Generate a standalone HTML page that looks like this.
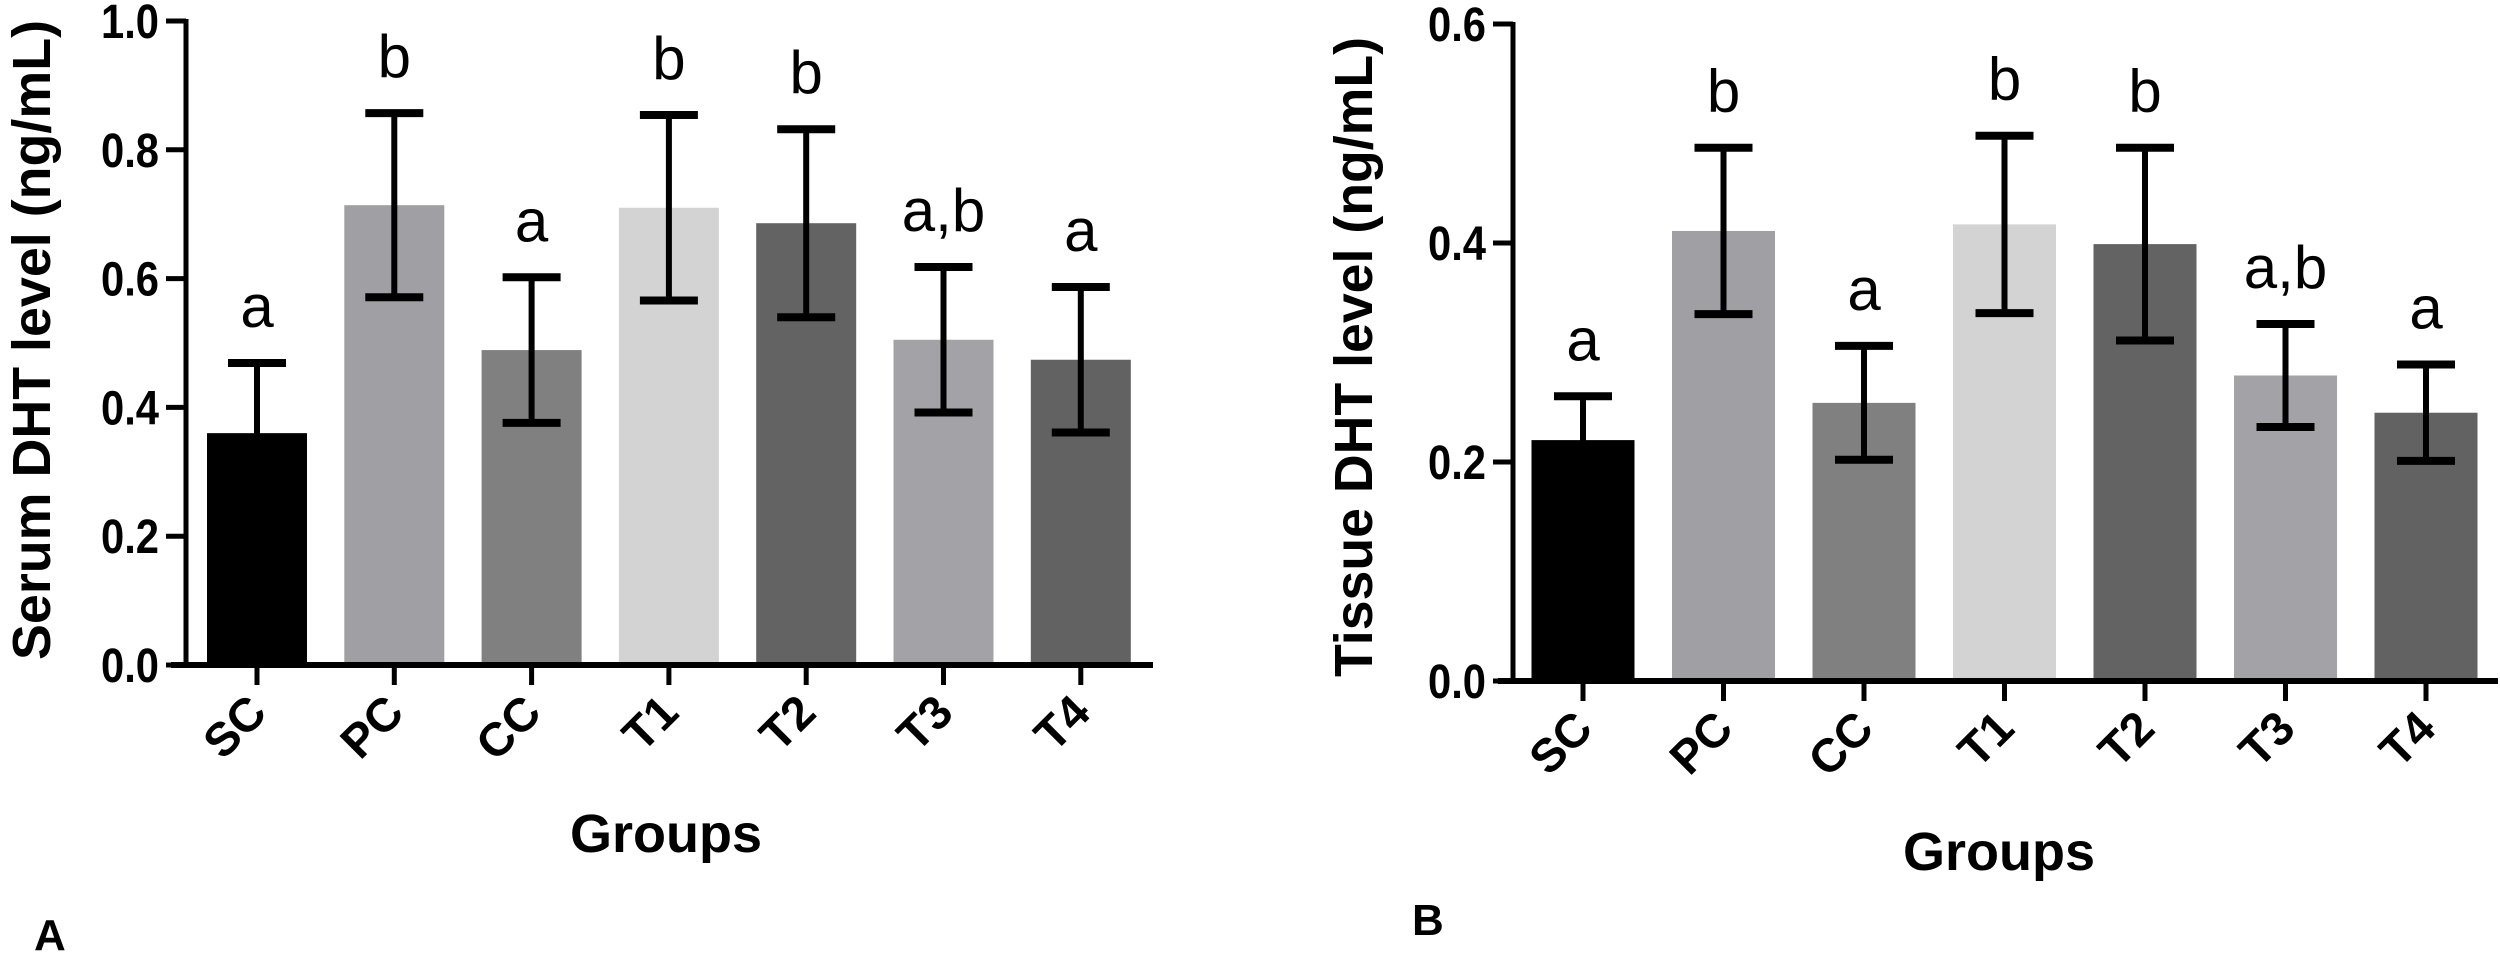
<!DOCTYPE html>
<html><head><meta charset="utf-8"><style>
html,body{margin:0;padding:0;background:#fff;}
svg{display:block;font-family:"Liberation Sans",Arial,sans-serif;}
</style></head><body>
<svg id="fig" width="2500" height="954" viewBox="0 0 2500 954" xmlns="http://www.w3.org/2000/svg"></svg>
<script>
const categories = ["SC","PC","CC","T1","T2","T3","T4"];
const colors = ["#000000","#a0a0a4","#808080","#d3d3d3","#636363","#a3a3a7","#626262"];
const serumMean = [0.36,0.714,0.489,0.71,0.686,0.505,0.474];
const serumErr = [0.109,0.143,0.113,0.144,0.146,0.113,0.113];
const serumLetters = ["a","b","a","b","b","a,b","a"];
const serumTicks = [0,0.2,0.4,0.6,0.8,1.0];
const serumTickLabels = ["0.0","0.2","0.4","0.6","0.8","1.0"];
const tissueMean = [0.22,0.411,0.254,0.417,0.399,0.279,0.245];
const tissueErr = [0.04,0.076,0.052,0.081,0.088,0.047,0.044];
const tissueLetters = ["a","b","a","b","b","a,b","a"];
const tissueTicks = [0,0.2,0.4,0.6];
const tissueTickLabels = ["0.0","0.2","0.4","0.6"];

const NS = "http://www.w3.org/2000/svg";
const svg = document.getElementById("fig");
function mk(tag, attrs, parent){
  const e = document.createElementNS(NS, tag);
  for (const k in attrs) e.setAttribute(k, attrs[k]);
  (parent||svg).appendChild(e);
  return e;
}

function drawPanel(cfg){
  const g = mk("g", {});
  
  
  const yS = v => cfg.y0 - (v/cfg.yMax)*(cfg.y0 - cfg.yTop);
  const xS = i => cfg.x0 + i*cfg.step;
  cfg.means.forEach((m,i)=>{
    const r = mk("rect", {x: xS(i)-cfg.bw/2, y: yS(m), width: cfg.bw, height: cfg.y0 - yS(m), fill: colors[i]}, g);
    
    
  });
  cfg.means.forEach((m,i)=>{
    const eg = mk("g", {stroke:"#000","stroke-width":6}, g);
    
    
    const hi = yS(m+cfg.errs[i]), lo = yS(m-cfg.errs[i]), x = xS(i);
    mk("line", {x1:x,x2:x,y1:hi,y2:lo}, eg);
    mk("line", {x1:x-29,x2:x+29,y1:hi,y2:hi,"stroke-width":8}, eg);
    mk("line", {x1:x-29,x2:x+29,y1:lo,y2:lo,"stroke-width":8}, eg);
    const t = mk("text", {x:x, y:hi-36, "text-anchor":"middle","font-size":60, fill:"#000"}, g);
    t.textContent = cfg.letters[i];
    
    
  });
  const ya = mk("line", {x1:cfg.axX, x2:cfg.axX, y1:cfg.yTop-2, y2:cfg.y0+3, stroke:"#000","stroke-width":5}, g);
  
  
  const xa = mk("line", {x1:cfg.axX-15, x2:cfg.xEnd, y1:cfg.y0, y2:cfg.y0, stroke:"#000","stroke-width":6}, g);
  
  
  cfg.ticks.forEach((v,k)=>{
    const y = yS(v);
    mk("line", {x1:cfg.axX-20, x2:cfg.axX, y1:y, y2:y, stroke:"#000","stroke-width":5}, g);
    const t = mk("text", {x:cfg.axX-27, y:y+17, "text-anchor":"end","font-size":48,"font-weight":"bold", textLength:58, lengthAdjust:"spacingAndGlyphs"}, g);
    t.textContent = cfg.tickLabels[k];
    
    
  });
  categories.forEach((c,i)=>{
    const x = xS(i);
    mk("line", {x1:x, x2:x, y1:cfg.y0, y2:cfg.y0+20, stroke:"#000","stroke-width":5}, g);
    const t = mk("text", {x:0, y:0, "text-anchor":"end","font-size":47,"font-weight":"bold", transform:`translate(${x+12},${cfg.y0+50}) rotate(-45)`}, g);
    t.textContent = c;
    
    
  });
  const yt = mk("text", {x:0,y:0,"text-anchor":"middle","font-size":54,"font-weight":"bold", textLength:cfg.ytLen, lengthAdjust:"spacingAndGlyphs", transform:`translate(${cfg.ytX},${cfg.ytY}) rotate(-90)`}, g);
  yt.textContent = cfg.yTitle;
  
  
  const xt = mk("text", {x:cfg.xtX, y:cfg.xtY, "text-anchor":"middle","font-size":54,"font-weight":"bold"}, g);
  xt.textContent = "Groups";
  
  
  const pl = mk("text", {x:cfg.plX, y:cfg.plY, "font-size":44,"font-weight":"bold"}, g);
  pl.textContent = cfg.panel;
  
  
}

drawPanel({name:"serum-chart", means:serumMean, errs:serumErr, letters:serumLetters, ticks:serumTicks, tickLabels:serumTickLabels,
  yMax:1.0, y0:665, yTop:21, axX:186, xEnd:1153, x0:257, step:137.3, bw:100,
  yTitle:"Serum DHT level (ng/mL)", ytX:50, ytY:340, ytLen:640, xtX:666, xtY:852, panel:"A", plX:34, plY:950});
drawPanel({name:"tissue-chart", means:tissueMean, errs:tissueErr, letters:tissueLetters, ticks:tissueTicks, tickLabels:tissueTickLabels,
  yMax:0.6, y0:681, yTop:24, axX:1513, xEnd:2498, x0:1583, step:140.5, bw:103,
  yTitle:"Tissue DHT level (ng/mL)", ytX:1372, ytY:357, ytLen:640, xtX:1999, xtY:870, panel:"B", plX:1412, plY:935});
</script>
</body></html>
